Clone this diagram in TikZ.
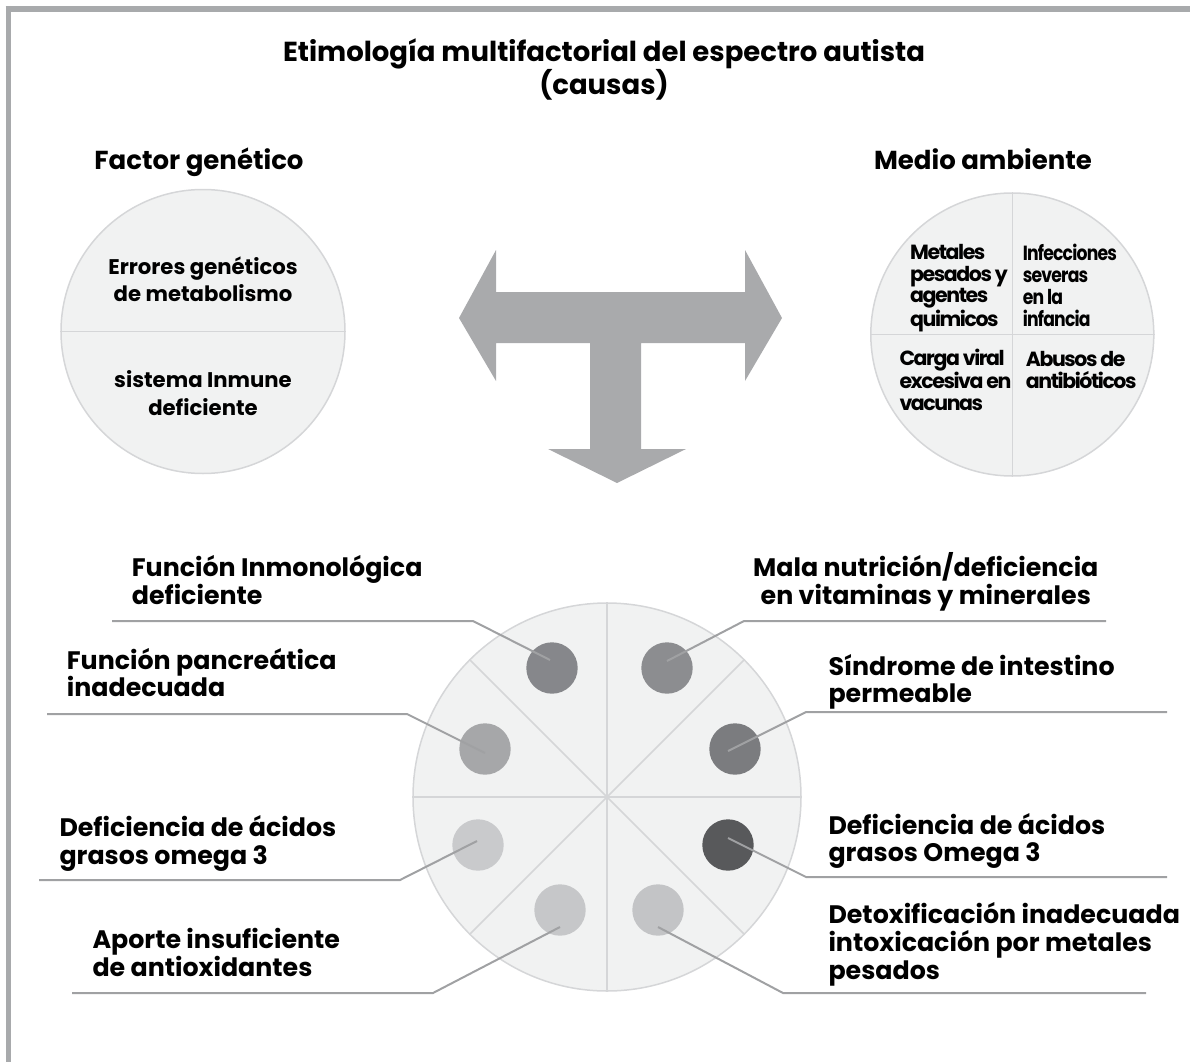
\documentclass[tikz,border=0pt]{standalone}
\usepackage{fontspec}
\setmainfont{Poppins}
\newfontfamily\tightfont[LetterSpace=-7]{Poppins}
\newfontfamily\narrowfont[FakeStretch=0.84,LetterSpace=-4]{Poppins}
\usetikzlibrary{calc,positioning}
\definecolor{framegray}{HTML}{A8AAAC}
\definecolor{arrowgray}{HTML}{A9AAAC}
\definecolor{discfill}{HTML}{F1F2F2}
\definecolor{discline}{HTML}{D5D6D8}
\definecolor{leadergray}{HTML}{A0A1A3}

\begin{document}
\begin{tikzpicture}[x=1pt,y=-1pt]

\tikzset{label/.style={font=\bfseries\fontsize{25.3}{27.7}\selectfont,anchor=base west,align=left,inner sep=0pt},
headnode/.style={font=\bfseries\fontsize{26}{28}\selectfont,anchor=base,inner sep=0pt},
intext/.style={font=\bfseries\fontsize{21.2}{27.7}\selectfont,anchor=base,align=center,inner sep=0pt},
quadtext/.style={font=\tightfont\bfseries\fontsize{20.5}{21.8}\selectfont,anchor=base west,align=left,inner sep=0pt},
disc/.style={fill=discfill,draw=discline,line width=1.5pt,shape=circle,inner sep=0pt},
dot/.style={shape=circle,inner sep=0pt,minimum size=51.4pt},
leader/.style={draw=leadergray,line width=2pt}}

\useasboundingbox (0,0) rectangle (1190,1062);

% Frame
\draw[framegray,line width=6pt] (5.5,9) -- (1190,9);
\draw[framegray,line width=5.5pt] (8.5,6) -- (8.5,1062);

% Title
\node[font=\bfseries\fontsize{27.5}{30}\selectfont,align=center,anchor=base,inner sep=0pt] (title) at (604,95) {Etimología multifactorial del espectro autista\\(causas)};

% Factor genetico
\node[headnode] (gen) at (199,169) {Factor genético};
\node[disc,minimum size=284pt] (genc) at (203,331.5) {};
\draw[discline,line width=1.5pt] (genc.west) -- (genc.east);
\node[intext] (gen1) at (203,301.7) {Errores genéticos\\de metabolismo};
\node[intext] (gen2) at (203,415) {sistema Inmune\\deficiente};

% Medio ambiente
\node[headnode] (env) at (983,169) {Medio ambiente};
\node[disc,minimum size=283pt] (envc) at (1012.3,334.5) {};
\draw[discline,line width=1.5pt] (envc.west) -- (envc.east);
\draw[discline,line width=1.5pt] (envc.north) -- (envc.south);
\node[quadtext] (env1) at (910,326) {Metales\\pesados y\\agentes\\quimicos};
\node[quadtext,font=\narrowfont\bfseries\fontsize{20.5}{21.8}\selectfont] (env2) at (1022.7,326) {Infecciones\\severas\\en la\\infancia};
\node[quadtext] (env3) at (899.3,410) {Carga viral\\excesiva en\\vacunas};
\node[quadtext] (env4) at (1025.7,388) {Abusos de\\antibióticos};

% T arrow
\fill[arrowgray] (459,318) -- (496,250) -- (496,292) -- (745,292) -- (745,250) -- (782,318)
  -- (745,381) -- (745,343) -- (641,343) -- (641,449) -- (686,449) -- (617,483) -- (548,449)
  -- (590,449) -- (590,343) -- (496,343) -- (496,381) -- cycle;

% Wheel
\node[disc,minimum size=388pt] (wheel) at (607,797) {};
\foreach \a in {0,45,...,315} \draw[discline,line width=1.5pt] (wheel.center) -- (wheel.\a);

% dots
\foreach \n/\x/\y/\c in {1/552/668/86878B, 2/667/668/8C8D90, 3/485/749/A6A7A9, 4/735/749/7B7C7F,
  5/478/845/C9CACC, 6/728/845/58595B, 7/560/910/C6C7C9, 8/658/910/C3C4C6}
  {\definecolor{dot\n}{HTML}{\c} \node[dot,fill=dot\n] (d\n) at (\x,\y) {};}

% labels
\node[label] (l1) at (131.7,604.3) {Función Inmonológica\\deficiente};
\node[label] (l2) at (66.7,696.7) {Función pancreática\\inadecuada};
\node[label] (l3) at (59.3,864) {Deficiencia de ácidos\\grasos omega 3};
\node[label] (l4) at (92.3,976) {Aporte insuficiente\\de antioxidantes};
\node[label,align=center,anchor=base] (l5) at (925.8,604.3) {Mala nutrición/deficiencia\\en vitaminas y minerales};
\node[label] (l6) at (828.3,702.7) {Síndrome de intestino\\permeable};
\node[label] (l7) at (828.3,861.7) {Deficiencia de ácidos\\grasos Omega 3};
\node[label] (l8) at (828.3,979.3) {Detoxificación inadecuada\\intoxicación por metales\\pesados};

% leader lines
\foreach \n/\tx/\ty/\kx/\ky/\ex in {1/550/660/473/621/112, 2/485/753/407/714/47, 3/477/841/400/880/39,
  4/560/927/433/993/72, 5/667/661/744/621/1106, 6/728/751/806/712/1167, 7/728/838/806/877/1167,
  8/658/927/783/993/1146}
  {\coordinate (t\n) at (\tx,\ty); \coordinate (k\n) at (\kx,\ky); \coordinate (e\n) at (\ex,\ky);
   \draw[leader] (t\n) -- (k\n) -- (e\n);}

\end{tikzpicture}
\end{document}
